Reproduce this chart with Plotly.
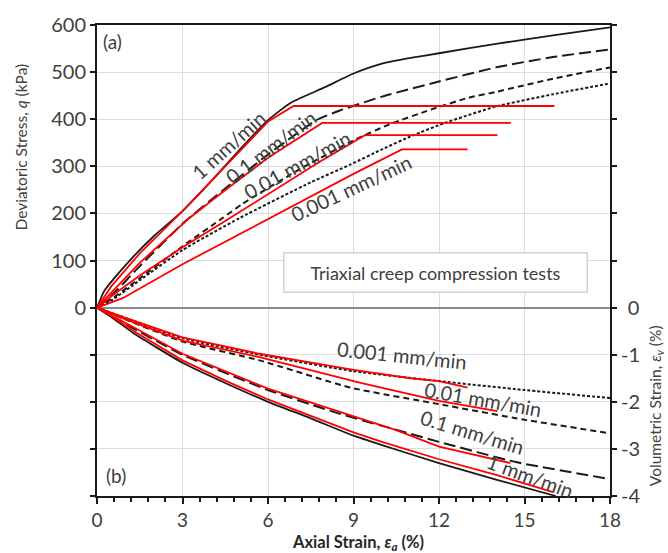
import plotly.graph_objects as go

# ---------------- data ----------------
# (a) deviatoric stress q (kPa) vs axial strain (%) - constant-rate tests (black)
x_q_1 = [0, 0.25, 0.6, 1.3, 2, 3, 4, 5, 6, 6.8, 8, 9, 10, 11, 12, 14, 16, 18]
q_1 = [0, 35, 62, 110, 152, 205, 268, 335, 398, 435, 468, 497, 518, 530, 540, 560, 578, 595]
x_q_01 = [0, 0.5, 1.5, 3, 4.4, 6, 7.7, 8.5, 10, 12, 14, 16, 18]
q_01 = [0, 25, 88, 178, 248, 325, 398, 418, 448, 480, 510, 532, 548]
x_q_001 = [0, 0.5, 1.5, 3, 4.4, 5.1, 7, 9, 10.3, 11.7, 13, 14, 16, 18]
q_001 = [0, 18, 62, 130, 190, 220, 290, 355, 390, 420, 445, 458, 486, 510]
x_q_0001 = [0, 0.5, 1.5, 3, 5, 7.5, 8.9, 10, 11.1, 12.2, 14, 16, 18]
q_0001 = [0, 15, 58, 122, 190, 266, 304, 336, 366, 392, 427, 453, 476]

# (a) creep tests (red): loading then constant q
xr_q_1 = [0, 0.5, 1.5, 3, 4.5, 6, 6.9, 16.05]
qr_1 = [0, 45, 115, 205, 300, 395, 428, 428]
xr_q_01 = [0, 0.5, 1.5, 3.2, 4.4, 6, 7.9, 14.52]
qr_01 = [0, 32, 95, 188, 245, 318, 392, 392]
xr_q_001 = [0, 0.5, 1.5, 3, 4.4, 6, 7.8, 9.4, 14.05]
qr_001 = [0, 24, 68, 128, 180, 240, 309, 366, 366]
xr_q_0001 = [0, 0.9, 3, 6, 9, 10.7, 13.0]
qr_0001 = [0, 20, 92, 188, 284, 336, 336]

# (b) volumetric strain (%) vs axial strain (%) - black
x_v_1 = [0, 0.5, 1.3, 3, 4.5, 6, 7.5, 9, 10, 12, 14, 16.1]
v_1 = [0, -0.2, -0.55, -1.17, -1.6, -2.0, -2.35, -2.72, -2.92, -3.3, -3.65, -4.0]
x_v_01 = [0, 1, 3, 6, 8.5, 11, 12, 14.7, 18]
v_01 = [0, -0.35, -1.0, -1.75, -2.25, -2.68, -2.85, -3.28, -3.64]
x_v_001 = [0, 1, 3, 5.7, 8.9, 12, 15, 18]
v_001 = [0, -0.25, -0.72, -1.12, -1.7, -2.05, -2.38, -2.67]
x_v_0001 = [0, 1, 3, 5.7, 9, 12, 15, 18]
v_0001 = [0, -0.22, -0.65, -1.0, -1.35, -1.56, -1.75, -1.92]

# (b) volumetric strain - creep tests (red)
xr_v_1 = [0, 0.5, 1.3, 3, 4.5, 6, 7.5, 9, 10, 12, 14, 16.0]
vr_1 = [0, -0.18, -0.5, -1.12, -1.55, -1.95, -2.3, -2.65, -2.85, -3.22, -3.55, -3.92]
xr_v_01 = [0, 1, 3, 6, 9, 10.5, 12, 14.5]
vr_01 = [0, -0.33, -0.98, -1.72, -2.3, -2.6, -2.95, -3.3]
xr_v_001 = [0, 1, 3, 5.7, 9.25, 12, 14.05]
vr_001 = [0, -0.25, -0.7, -1.05, -1.6, -1.98, -2.2]
xr_v_0001 = [0, 1, 3, 5.7, 9, 11, 12, 13.0]
vr_0001 = [0, -0.22, -0.63, -0.98, -1.32, -1.5, -1.56, -1.7]

x_ticks = [0, 3, 6, 9, 12, 15, 18]
q_ticks = list(range(-400, 700, 100))
q_ticktext = ["" if v < 0 else str(v) for v in q_ticks]
v_ticks = list(range(-4, 7))
v_ticktext = [("\u2004" + str(v) if v == 0 else str(v)) if v <= 0 else "" for v in v_ticks]

FONT = "Lato"
TXT = "#404040"
BLACK = "#1a1a1a"
RED = "#ff0000"

fig = go.Figure()

def add(x, y, color, dash, yaxis="y", width=1.8, shape="linear"):
    fig.add_trace(go.Scatter(x=x, y=y, mode="lines", yaxis=yaxis, showlegend=False,
                             line=dict(color=color, width=width, dash=dash, shape=shape,
                                       smoothing=0.5 if shape == "spline" else None),
                             hoverinfo="skip"))

# black curves (a)
add(x_q_1, q_1, BLACK, "solid", shape="spline")
add(x_q_01, q_01, BLACK, "12px,5px", width=2, shape="spline")
add(x_q_001, q_001, BLACK, "6px,4px", width=2, shape="spline")
add(x_q_0001, q_0001, BLACK, "3px,2px", width=2, shape="spline")
# black curves (b)
add(x_v_1, v_1, BLACK, "solid", "y2", shape="spline")
add(x_v_01, v_01, BLACK, "12px,5px", "y2", width=2, shape="spline")
add(x_v_001, v_001, BLACK, "6px,4px", "y2", width=2, shape="spline")
add(x_v_0001, v_0001, BLACK, "3px,2px", "y2", width=2, shape="spline")
# red creep curves
for xs, ys in [(xr_q_1, qr_1), (xr_q_01, qr_01), (xr_q_001, qr_001), (xr_q_0001, qr_0001)]:
    add(xs, ys, RED, "solid")
for xs, ys in [(xr_v_1, vr_1), (xr_v_01, vr_01), (xr_v_001, vr_001), (xr_v_0001, vr_0001)]:
    add(xs, ys, RED, "solid", "y2")

ann = []
def label(text, x, y, angle, yref="y", size=20):
    ann.append(dict(text=text, x=x, y=y, xref="x", yref=yref, textangle=angle,
                    showarrow=False, font=dict(family=FONT, size=size, color=TXT),
                    xanchor="center", yanchor="middle"))

label("1 mm/min", 4.6, 346, -42)
label("0.1 mm/min", 6.08, 342, -37)
label("0.01 mm/min", 7.0, 303, -29)
label("0.001 mm/min", 8.9, 254, -25)
label("0.001 mm/min", 10.69, -1.01, 6, "y2")
label("0.01 mm/min", 13.54, -1.93, 10, "y2")
label("0.1 mm/min", 13.19, -2.64, 17, "y2")
label("1 mm/min", 15.22, -3.57, 20, "y2")
label("(a)", 0.56, 564, 0, size=19)
label("(b)", 0.67, -3.57, 0, "y2", size=19)

# box text
ann.append(dict(text="Triaxial creep compression tests", xref="paper", yref="paper",
                x=(435 - 97) / 513, y=(496 - 270) / 477, showarrow=False,
                font=dict(family=FONT, size=18, color=TXT), bgcolor="white",
                bordercolor="#d0d0d0", borderwidth=1.5, width=300, height=36,
                xanchor="center", yanchor="middle"))
# axis titles
ann.append(dict(text="Deviatoric Stress, <i>q</i> (kPa)", xref="paper", yref="paper",
                x=(21 - 97) / 513, y=(496 - 143) / 477, textangle=-90, showarrow=False,
                font=dict(family=FONT, size=15.5, color=TXT), xanchor="center", yanchor="middle"))
ann.append(dict(text="Volumetric Strain, <i>ε<sub>v</sub></i> (%)", xref="paper", yref="paper",
                x=(656 - 97) / 513, y=(496 - 405) / 477, textangle=-90, showarrow=False,
                font=dict(family=FONT, size=15.5, color=TXT), xanchor="center", yanchor="middle"))
ann.append(dict(text="<b>Axial Strain, <i>ε<sub>a</sub></i> (%)</b>", xref="paper", yref="paper",
                x=(358 - 97) / 513, y=(496 - 543) / 477, showarrow=False,
                font=dict(family=FONT, size=16.5, color="#262626"), xanchor="center", yanchor="middle"))

tick_font = dict(family=FONT, size=20, color=TXT)
fig.update_layout(
    width=668, height=553,
    margin=dict(l=97, r=58, t=19, b=57),
    paper_bgcolor="white", plot_bgcolor="white",
    annotations=ann,
    xaxis=dict(range=[0, 18], tickvals=x_ticks, showgrid=True, gridcolor="#dcdcdc", gridwidth=1,
               showline=True, linecolor=BLACK, linewidth=2, mirror=True, zeroline=False,
               ticks="outside", ticklen=6, tickcolor=BLACK, tickwidth=1.5,
               minor=dict(dtick=0.6, ticks="outside", ticklen=4, tickcolor=BLACK, showgrid=False),
               tickfont=dict(family=FONT, size=19, color=TXT)),
    yaxis=dict(range=[-400, 600], tickvals=q_ticks, ticktext=q_ticktext, showgrid=True,
               gridcolor="#dcdcdc", gridwidth=1, zeroline=True, zerolinecolor="#8c8c8c",
               zerolinewidth=2, showline=True, linecolor=BLACK, linewidth=2,
               ticks="outside", ticklen=5, tickcolor=BLACK, tickwidth=1.5,
               tickfont=tick_font),
    yaxis2=dict(range=[-4, 6], overlaying="y", side="right", tickvals=v_ticks, ticktext=v_ticktext,
                showgrid=False, zeroline=False, showline=True, linecolor=BLACK, linewidth=2,
                ticks="outside", ticklen=5, tickcolor=BLACK, tickwidth=1.5,
                tickfont=tick_font),
)

fig.write_html("out.html")
